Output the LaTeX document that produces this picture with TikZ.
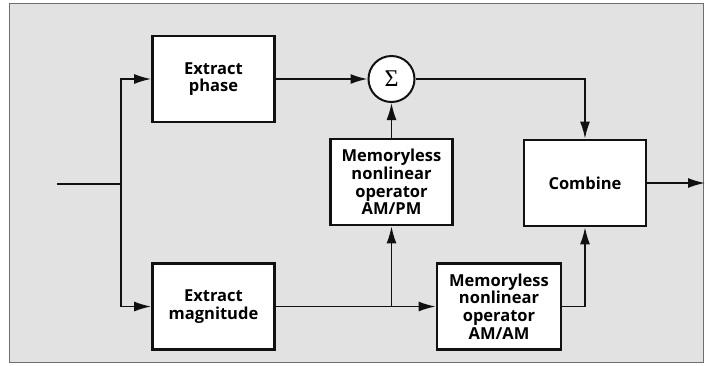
\documentclass[tikz,border=0pt]{standalone}
\usepackage{fontspec}
\setmainfont{Open Sans}
\newfontfamily\sumfont{Liberation Serif}
\usepackage{tikz}
\usetikzlibrary{arrows.meta,calc,positioning}
\definecolor{paperGray}{HTML}{E2E2E2}
\definecolor{frameGray}{HTML}{6E6E6E}
\definecolor{inkBlack}{HTML}{111111}
\tikzset{
  flow/.style={-{Latex[length=17pt,width=10pt]}, line width=1.6pt, draw=inkBlack},
  wire/.style={line width=1.6pt, draw=inkBlack},
  block/.style={draw=inkBlack, fill=white, line width=2.8pt, align=center,
    minimum width=122pt, minimum height=86pt, inner sep=2pt,
    font=\bfseries\fontsize{16.5}{17.6}\selectfont},
  adder/.style={circle, draw=inkBlack, fill=white, line width=2pt,
    minimum size=46pt, inner sep=0pt, font=\sumfont\fontsize{24}{24}\selectfont},
  panel/.style={draw=frameGray, fill=paperGray, line width=0.8pt}
}
\begin{document}
\begin{tikzpicture}[x=1pt,y=-1pt]
  \useasboundingbox (0,0) rectangle (705,365);
  \draw[panel] (9,3) rectangle (703,362);
  \node[block] (phase) at (213.5,79) {Extract\\phase};
  \node[block] (mag) at (213.5,306.5) {Extract\\magnitude};
  \node[adder] (sum) at (391.5,79) {Σ};
  \node[block] (ampm) at (391.5,182) {Memoryless\\nonlinear\\operator\\AM/PM};
  \node[block, minimum width=124pt] (amam) at (499,306.5)
    {Memoryless\\nonlinear\\operator\\AM/AM};
  \node[block] (comb) at (585,183) {Combine};
  \coordinate (in) at (57,184);
  \coordinate (split) at (121,184);
  \coordinate (tap) at (ampm.south |- mag.east);
  \coordinate (out) at (705,183);
  \draw[wire] (in) -- (split);
  \draw[flow] (split) |- (phase.west); \draw[flow] (split) |- (mag.west);
  \draw[flow] (phase.east) -- (sum.west); \draw[flow] (ampm.north) -- (sum.south);
  \draw[flow] (mag.east) -- (amam.west); \draw[flow] (tap) -- (ampm.south);
  \draw[flow] (sum.east) -| (comb.north);
  \draw[flow] (amam.east) -| (comb.south);
  \draw[flow] (comb.east) -- (out);
\end{tikzpicture}
\end{document}
